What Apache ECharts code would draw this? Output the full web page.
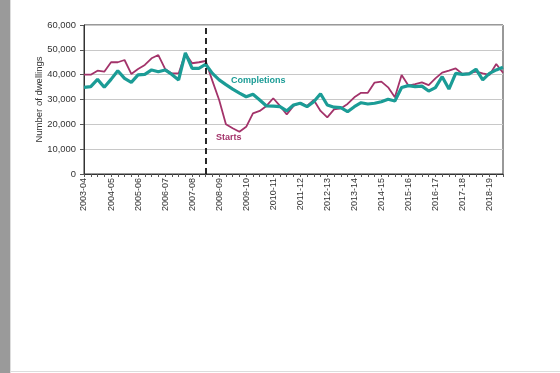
<!DOCTYPE html>
<html>
<head>
<meta charset="utf-8">
<script src="https://cdn.jsdelivr.net/npm/echarts@6/dist/echarts.min.js"></script>
<style>
html,body{margin:0;padding:0;background:#fff;}
#c{width:560px;height:373px;}
</style>
</head>
<body>
<div id="c"></div>
<script>
// Financial years; each has 4 quarters (data runs to Q3 of 2018-19)
const years = ["2003-04","2004-05","2005-06","2006-07","2007-08","2008-09","2009-10","2010-11",
  "2011-12","2012-13","2013-14","2014-15","2015-16","2016-17","2017-18","2018-19"];
const quarters = ["Q1","Q2","Q3","Q4"];
const yTicks = [0,10000,20000,30000,40000,50000,60000];

const starts = [40000,40000,41600,41200,45000,45000,45900,40300,42300,43900,46600,47900,42300,40500,40500,48600,
  44600,45000,45500,37500,29800,20000,18400,17000,19000,24400,25400,27400,30500,27400,24000,27400,
  28700,27400,29800,25400,22800,26000,26400,28200,30900,32700,32700,36800,37200,34900,30900,39900,
  35600,36200,36900,35800,38500,40800,41600,42500,40300,40600,41200,40500,39900,44300,40800];

const completions = [34900,35200,38100,34900,38100,41600,38500,36900,39900,40100,41900,41200,41900,40100,37900,48800,
  42500,42500,44200,40500,37900,36000,34200,32600,31100,32100,29800,27400,27300,27100,25400,27800,
  28500,27100,29100,32300,27800,26900,26700,25100,27100,28700,28200,28500,29100,30100,29400,34800,
  35600,35200,35400,33400,34800,39200,34200,40500,40100,40300,42200,37900,40500,41900,43000];

const dividerQuarter = "2007-08 Q3";

const categories = [];
years.forEach(y => quarters.forEach(q => categories.push(y + " " + q)));
categories.length = starts.length;

const font = "'Liberation Sans', Arial, sans-serif";
const chart = echarts.init(document.getElementById('c'), null, {renderer:'canvas'});
chart.setOption({
  animation:false,
  backgroundColor:'#fff',
  grid:{left:84, top:25, right:57, bottom:199, show:true, borderColor:'#333', borderWidth:1, backgroundColor:'transparent'},
  xAxis:{
    type:'category', data:categories, boundaryGap:false,
    axisLine:{lineStyle:{color:'#333', width:1}},
    axisTick:{interval:0, length:3, lineStyle:{color:'#555'}},
    axisLabel:{interval:3, rotate:90, margin:4, fontSize:9, color:'#333', fontFamily:font,
      formatter:v => v.slice(0,7)},
    splitLine:{show:false}
  },
  yAxis:{
    type:'value', min:yTicks[0], max:yTicks[yTicks.length-1], interval:10000,
    name:'Number of dwellings', nameLocation:'middle', nameGap:40, nameMoveOverlap:false,
    nameTextStyle:{fontSize:9.5, color:'#333', fontFamily:font},
    axisLine:{show:true, lineStyle:{color:'#333', width:1}},
    axisTick:{show:true, length:4, lineStyle:{color:'#555'}},
    axisLabel:{margin:8, fontSize:9.4, color:'#333', fontFamily:font,
      formatter:v => v.toLocaleString('en-GB')},
    splitLine:{lineStyle:{color:'#c8c8c8', width:1}}
  },
  series:[
    {name:'Starts', type:'line', data:starts, symbol:'none', z:2,
      lineStyle:{color:'#a3336a', width:1.8},
      markLine:{silent:true, symbol:'none', label:{show:false},
        lineStyle:{color:'#111', type:[6,4], width:1.8},
        data:[{xAxis:dividerQuarter}]}},
    {name:'Completions', type:'line', data:completions, symbol:'none', z:3,
      lineStyle:{color:'#1b9c96', width:3.2}}
  ],
  graphic:[
    {type:'rect', shape:{x:0,y:0,width:10,height:373}, style:{fill:'#9a9a9a'}, silent:true},
    {type:'rect', shape:{x:10,y:0,width:1,height:373}, style:{fill:'#dddddd'}, silent:true},
    {type:'rect', shape:{x:11,y:371,width:549,height:1}, style:{fill:'#dddddd'}, silent:true},
    {type:'text', left:231, top:76, style:{text:'Completions', fill:'#1b9c96', font:'bold 9px ' + font}},
    {type:'text', left:216, top:133, style:{text:'Starts', fill:'#a3336a', font:'bold 9px ' + font}}
  ]
});
</script>
</body>
</html>
